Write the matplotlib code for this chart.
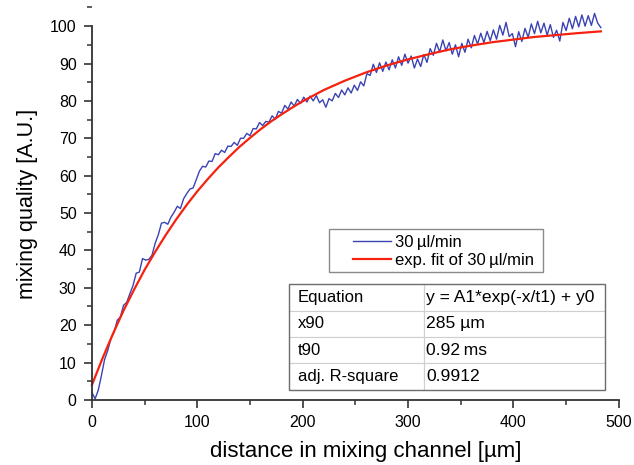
import numpy as np
import matplotlib.pyplot as plt
from matplotlib.patches import Rectangle
from matplotlib.ticker import MultipleLocator

plt.rcParams['font.family'] = ['Liberation Sans', 'DejaVu Sans']

dist_um = np.arange(0, 484, 3)
quality = [
    2.0, 0.3, 2.6, 6.5, 10.8, 13.2, 16.4, 18.1, 21.3, 22.2,
    25.3, 26.1, 28.4, 30.6, 33.9, 34.2, 37.8, 37.4, 37.6, 38.7,
    41.9, 44.2, 47.3, 47.5, 47.0, 48.9, 50.2, 51.8, 51.2, 53.8,
    55.2, 56.4, 56.7, 58.9, 61.2, 62.5, 62.3, 63.9, 63.8, 65.9,
    65.6, 66.8, 66.2, 67.9, 67.8, 68.9, 68.1, 70.0, 70.0, 71.3,
    70.7, 72.6, 72.5, 74.2, 73.4, 74.5, 74.3, 76.0, 75.1, 77.2,
    76.7, 78.8, 77.8, 79.7, 78.6, 80.4, 79.3, 81.0, 79.7, 81.3,
    80.0, 81.4, 79.5, 80.3, 78.3, 80.6, 80.0, 82.0, 80.9, 82.9,
    81.6, 83.5, 82.1, 84.2, 82.8, 85.1, 84.0, 87.3, 86.8, 89.8,
    87.6, 90.2, 87.9, 90.4, 88.3, 91.0, 88.8, 91.8, 89.5, 92.5,
    90.1, 92.0, 88.8, 91.2, 89.2, 92.4, 90.3, 94.0, 92.2, 95.4,
    93.1, 96.3, 93.4, 95.6, 92.5, 95.0, 91.8, 95.4, 93.0, 96.5,
    94.2, 97.5, 95.2, 98.1, 95.6, 98.6, 96.1, 99.0, 96.5, 100.2,
    97.6, 101.0, 97.2, 98.0, 94.5, 98.5, 95.9, 99.4, 97.0, 100.6,
    98.0, 101.3, 98.2, 100.8, 97.6, 100.4, 97.0, 98.9, 96.0, 101.0,
    98.8, 102.1, 99.3, 102.6, 99.8, 103.0, 100.0, 102.8, 100.2, 103.4,
    100.8, 99.6,
]

# --- exponential fit ---
fit_x = [0, 10, 20, 30, 40, 50, 60, 70, 80, 90, 100, 110, 120, 130, 140,
         150, 160, 170, 180, 190, 200, 220, 240, 260, 280, 300, 320, 340,
         360, 380, 400, 420, 440, 460, 483]
fit_y = [4.0, 11.1, 17.7, 23.9, 29.5, 34.8, 39.6, 44.1, 48.3, 52.2, 55.8,
         59.1, 62.2, 65.0, 67.7, 70.1, 72.4, 74.5, 76.4, 78.2, 79.9, 82.9,
         85.4, 87.6, 89.5, 91.1, 92.5, 93.8, 94.8, 95.7, 96.4, 97.1, 97.6,
         98.1, 98.6]

table_rows = [
    ['Equation', 'y = A1*exp(-x/t1) + y0'],
    ['x90', '285 \u00b5m'],
    ['t90', '0.92\u2009ms'],
    ['adj. R-square', '0.9912'],
]

fig = plt.figure(figsize=(6.34, 4.65), dpi=100)
ax = fig.add_axes([0.145, 0.140, 0.831, 0.844])

l1, = ax.plot(dist_um, quality, color='#3a43b4', lw=1.0, clip_on=False,
              label='30\u2009\u00b5l/min')
l2, = ax.plot(fit_x, fit_y, color='#f5220f', lw=1.6, clip_on=False,
              label='exp. fit of 30\u2009\u00b5l/min')

ax.set_xlim(0, 500)
ax.set_ylim(0, 105)
ax.spines['top'].set_visible(False)
ax.spines['right'].set_visible(False)
ax.spines['left'].set_bounds(0, 100)
for s in ('left', 'bottom'):
    ax.spines[s].set_color('#333333')
    ax.spines[s].set_linewidth(1.3)

ax.xaxis.set_major_locator(MultipleLocator(100))
ax.xaxis.set_minor_locator(MultipleLocator(50))
ax.yaxis.set_major_locator(MultipleLocator(10))
ax.yaxis.set_minor_locator(MultipleLocator(5))
ax.set_yticks(range(0, 101, 10))
ax.tick_params(which='major', length=6, width=1.2, color='#333333',
               labelsize=11.5, pad=5)
ax.tick_params(which='minor', length=3.5, width=1.1, color='#333333')

ax.set_xlabel('distance in mixing channel [\u00b5m]', fontsize=16)
ax.set_ylabel('mixing quality [A.U.]', fontsize=15.5)
ax.xaxis.set_label_coords(0.52, -0.105)
ax.yaxis.set_label_coords(-0.102, 0.5)

# legend (frame drawn separately to get the wide box)
ax.add_patch(Rectangle((0.450, 0.326), 0.406, 0.1095, transform=ax.transAxes,
                       fill=False, edgecolor='#8a8a8a', lw=1.0))
ax.legend(handles=[l1, l2], loc='upper left', bbox_to_anchor=(0.495, 0.421),
          frameon=False, borderpad=0, borderaxespad=0, fontsize=12,
          handlelength=2.3, handletextpad=0.25, labelspacing=0.2)

tbl = ax.table(cellText=table_rows, cellLoc='left', colWidths=[0.427, 0.573],
               bbox=[0.374, 0.0255, 0.599, 0.2695])
tbl.auto_set_font_size(False)
tbl.set_fontsize(12)
for (r, c), cell in tbl.get_celld().items():
    cell.set_edgecolor('#cfcfcf')
    cell.set_linewidth(0.8)
    cell.PAD = 0.065 if c == 0 else 0.012
    if c == 1:
        cell.get_text().set_fontsize(12.6)
ax.add_patch(Rectangle((0.374, 0.0255), 0.599, 0.2695, transform=ax.transAxes,
                       fill=False, edgecolor='#6e6e6e', lw=1.0, zorder=5))

fig.savefig('out.png', dpi=100)
